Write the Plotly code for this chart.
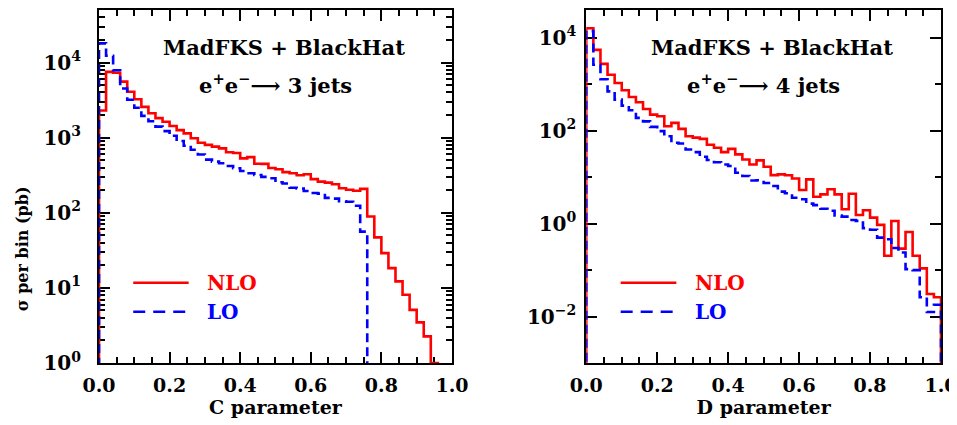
import numpy as np
import plotly.graph_objects as go
from plotly.subplots import make_subplots

# ---- data: 50 bins of width 0.02 on [0, 1] ----
bin_edges = np.linspace(0.0, 1.0, 51)

# C parameter, e+e- -> 3 jets (sigma per bin, pb); 0 = empty bin
c_nlo = [2300, 7500, 7300, 5560, 4080, 3240, 2570, 2110, 1820, 1630,
         1430, 1260, 1140, 980, 855, 800, 760, 720, 640, 625,
         530, 550, 450, 447, 395, 380, 347, 336, 316, 326,
         280, 260, 252, 240, 212, 202, 196, 208, 89, 47,
         29, 18.3, 12.2, 8.1, 5.1, 3.47, 2.26, 1.0, 0, 0]
c_lo = [18000, 12300, 7900, 4500, 3200, 2500, 1950, 1650, 1400, 1220,
        1060, 900, 780, 690, 595, 510, 480, 457, 420, 392,
        360, 336, 318, 300, 288, 255, 245, 215, 210, 195,
        183, 180, 158, 154, 142, 140, 124, 56, 0, 0,
        0, 0, 0, 0, 0, 0, 0, 0, 0, 0]

# D parameter, e+e- -> 4 jets
d_nlo = [16100, 5520, 2760, 1605, 1067, 743, 534, 410, 295, 223,
         205, 125, 148, 110, 76, 71, 67, 50, 43, 34.6,
         40.7, 31, 24, 18.8, 23, 16.8, 11.1, 11.5, 11, 9.4,
         5.3, 9.0, 3.8, 4.26, 5.5, 4.26, 2.04, 4.4, 1.54, 1.94,
         1.35, 0.94, 0.203, 1.14, 0.29, 0.66, 0.203, 0.109, 0.0305, 0.026]
d_lo = [14000, 2640, 1290, 704, 468, 348, 276, 189, 159, 121,
        98, 76, 55, 53, 39.5, 34.6, 27.6, 23.4, 21, 18.8,
        17.4, 12.5, 10.6, 8.5, 8.6, 7.5, 6.45, 4.9, 4.5, 3.6,
        3.35, 2.7, 2.5, 2.1, 1.9, 1.5, 1.42, 1.2, 1.15, 0.8,
        0.74, 0.5, 0.46, 0.3, 0.24, 0.105, 0.1, 0.026, 0.0125, 0.018]

# tick labels
c_ytick_vals = [1, 10, 100, 1000, 10000]
c_ytick_text = ["10<sup>0</sup>", "10<sup>1</sup>", "10<sup>2</sup>", "10<sup>3</sup>", "10<sup>4</sup>"]
d_ytick_vals = [0.01, 1, 100, 10000]
d_ytick_text = ["10<sup>\u22122</sup>", "10<sup>0</sup>", "10<sup>2</sup>", "10<sup>4</sup>"]

panel_titles = ["MadFKS + BlackHat", "MadFKS + BlackHat"]
panel_procs = ["e<sup>+</sup>e<sup>\u2212</sup>\u27f6 3 jets",
               "e<sup>+</sup>e<sup>\u2212</sup>\u27f6 4 jets"]
x_titles = ["C parameter", "D parameter"]
y_title = "\u03c3 per bin (pb)"
series_names = ["NLO", "LO"]

RED = "#ff0000"
BLUE = "#0000ff"
FONT = "DejaVu Serif"
TINY = 1e-9


def step_xy(values):
    """Histogram outline: up from the floor at x=0, steps, down at x=1."""
    vals = [v if v > 0 else TINY for v in values]
    xs = [bin_edges[0]] + list(bin_edges[:-1]) + [bin_edges[-1], bin_edges[-1]]
    ys = [TINY] + vals + [vals[-1], TINY]
    return xs, ys


fig = make_subplots(rows=1, cols=2, horizontal_spacing=0.1595)

panels = [(c_nlo, c_lo), (d_nlo, d_lo)]
for col, (nlo, lo) in enumerate(panels, start=1):
    xs, ys = step_xy(nlo)
    fig.add_trace(go.Scatter(x=xs, y=ys, mode="lines", line_shape="hv",
                             line=dict(color=RED, width=2.6),
                             name=series_names[0], showlegend=False),
                  row=1, col=col)
    xs, ys = step_xy(lo)
    fig.add_trace(go.Scatter(x=xs, y=ys, mode="lines", line_shape="hv",
                             line=dict(color=BLUE, width=2.6, dash="9px,5px"),
                             name=series_names[1], showlegend=False),
                  row=1, col=col)

axis_common = dict(showline=True, linewidth=2, linecolor="black", mirror="allticks",
                   ticks="inside", ticklen=11, tickwidth=2, tickcolor="black",
                   showgrid=False, zeroline=False, layer="below traces", automargin=False,
                   ticklabeloverflow="allow")

for col in (1, 2):
    fig.update_xaxes(**axis_common, range=[0, 1], tickmode="linear", tick0=0, dtick=0.2,
                     tickformat=".1f", ticklabelstandoff=4,
                     tickfont=dict(family=FONT, size=19, color="black", weight="bold"),
                     minor=dict(dtick=0.05, ticks="inside", ticklen=6, tickwidth=1.5,
                                tickcolor="black", showgrid=False),
                     title=dict(text=x_titles[col - 1], standoff=6,
                                font=dict(family=FONT, size=19, color="black", weight="bold")),
                     row=1, col=col)

yfont = dict(family=FONT, size=20, color="black", weight="bold")
fig.update_yaxes(**axis_common, type="log", range=[0, np.log10(5e4)],
                 tickmode="array", tickvals=c_ytick_vals, ticktext=c_ytick_text,
                 ticklabelstandoff=12, tickfont=yfont,
                 minor=dict(dtick="D1", ticks="inside", ticklen=6, tickwidth=1.5,
                            tickcolor="black", showgrid=False),
                 row=1, col=1)
fig.update_yaxes(**axis_common, type="log", range=[-3, 4.6],
                 tickmode="array", tickvals=d_ytick_vals, ticktext=d_ytick_text,
                 ticklabelstandoff=4, tickfont=yfont,
                 minor=dict(dtick=1, tick0=0, ticks="inside", ticklen=6, tickwidth=1.5,
                            tickcolor="black", showgrid=False),
                 row=1, col=2)

# the page adds an 8px body margin, so the figure is 8px smaller and margins shifted
fig.update_layout(
    width=949, height=417,
    margin=dict(l=91, r=16, t=2, b=62, autoexpand=False),
    plot_bgcolor="white", paper_bgcolor="white",
    showlegend=False,
)
fig.update_xaxes(domain=[0, 0.4192], row=1, col=1)
fig.update_xaxes(domain=[0.5787, 1.0], row=1, col=2)

annos = []
shapes = []
for i, (xa, ya) in enumerate([("x", "y"), ("x2", "y2")]):
    xd, yd = xa + " domain", ya + " domain"
    annos.append(dict(text=panel_titles[i], xref=xd, yref=yd, x=0.524, y=0.893,
                      showarrow=False, xanchor="center", yanchor="middle",
                      font=dict(family=FONT, size=21, color="black", weight="bold")))
    annos.append(dict(text=panel_procs[i], xref=xd, yref=yd, x=0.499, y=0.79,
                      showarrow=False, xanchor="center", yanchor="middle",
                      font=dict(family=FONT, size=21, color="black", weight="bold")))
    # legend
    shapes.append(dict(type="line", xref=xd, yref=yd, x0=0.097, x1=0.254, y0=0.2275, y1=0.2275,
                       line=dict(color=RED, width=2.6)))
    shapes.append(dict(type="line", xref=xd, yref=yd, x0=0.097, x1=0.254, y0=0.145, y1=0.145,
                       line=dict(color=BLUE, width=2.6, dash="12px,8px")))
    annos.append(dict(text=series_names[0], xref=xd, yref=yd, x=0.30, y=0.2275,
                      showarrow=False, xanchor="left", yanchor="middle",
                      font=dict(family=FONT, size=20, color=RED, weight="bold")))
    annos.append(dict(text=series_names[1], xref=xd, yref=yd, x=0.30, y=0.145,
                      showarrow=False, xanchor="left", yanchor="middle",
                      font=dict(family=FONT, size=20, color=BLUE, weight="bold")))

annos.append(dict(text=y_title, xref="paper", yref="paper", x=-0.09, y=0.323,
                  textangle=-90, showarrow=False, xanchor="center", yanchor="middle",
                  font=dict(family=FONT, size=16, color="black", weight="bold")))

fig.update_layout(annotations=annos, shapes=shapes)
fig.write_html("out.html")
